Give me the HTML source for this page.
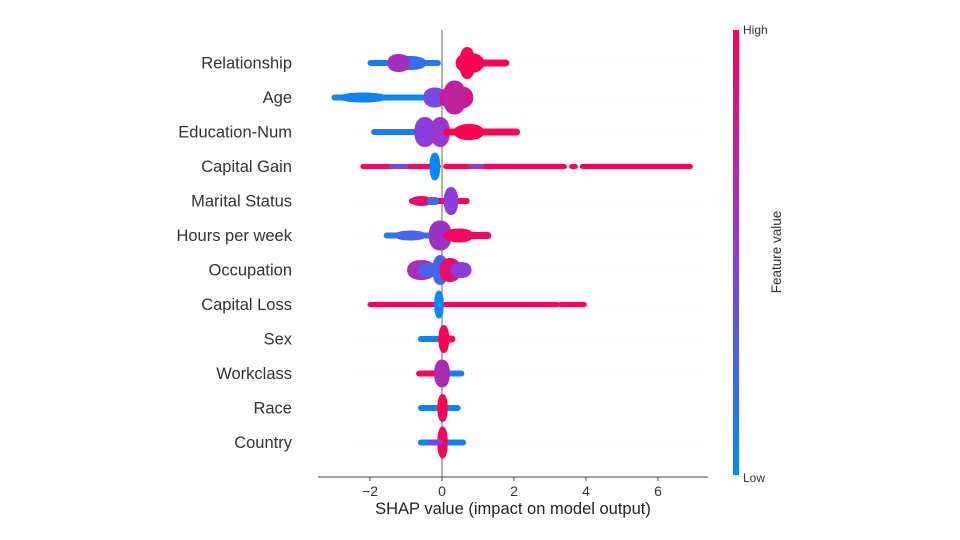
<!DOCTYPE html>
<html><head><meta charset="utf-8"><style>
html,body{margin:0;padding:0;background:#fff;}
svg{display:block;font-family:"Liberation Sans","DejaVu Sans",sans-serif;}
</style></head><body>
<svg id="chart" width="960" height="540" viewBox="0 0 960 540" xmlns="http://www.w3.org/2000/svg">
<defs><linearGradient id="cbar" x1="0" y1="1" x2="0" y2="0">
<stop offset="0" stop-color="rgb(0,139,251)"/><stop offset="0.5" stop-color="rgb(140,60,220)"/><stop offset="1" stop-color="rgb(255,0,82)"/>
</linearGradient></defs>
<g id="guides"></g>
<line x1="442" y1="30" x2="442" y2="477" stroke="#999" stroke-width="1.5"/>
<g id="marks"></g>
<g id="labels"></g>
<g id="xaxis"></g>
<text x="513" y="514" text-anchor="middle" font-size="16.5" fill="#222">SHAP value (impact on model output)</text>
<rect x="733" y="30" width="6" height="445" fill="url(#cbar)"/>
<text x="743" y="34" font-size="12" fill="#333">High</text>
<text x="743" y="482" font-size="12" fill="#333">Low</text>
<text transform="translate(781,252) rotate(-90)" text-anchor="middle" font-size="13.5" fill="#333">Feature value</text>
</svg>
<script>
const features = ["Relationship","Age","Education-Num","Capital Gain","Marital Status","Hours per week","Occupation","Capital Loss","Sex","Workclass","Race","Country"];
const xTicks = [-2,0,2,4,6];
// segments per feature: [xStart, xEnd, thickness, colorValue(0 low..1 high)]
const segRelationship = [[-2.0,-0.1,6,0.1],[-1.3,-0.5,14,0.15],[-1.45,-0.95,18,0.6],[0.55,1.8,7,1],[0.45,1.1,20,1],[0.55,0.85,32,1]];
const segAge = [[-3.0,-0.3,6,0.02],[-2.8,-1.6,10,0.05],[-0.45,0.05,20,0.42],[0.0,0.8,24,0.8],[0.1,0.6,34,0.72]];
const segEducation = [[-1.9,-0.5,6,0.1],[-0.7,-0.25,30,0.5],[-0.25,0.15,30,0.55],[0.1,2.1,7,1],[0.4,1.1,16,1]];
const segCapitalGain = [[-2.2,-0.1,5,0.95],[-1.4,-1.0,5,0.4],[0.1,3.4,5,1],[0.8,1.1,5,0.55],[3.6,3.7,5,1],[3.9,6.9,5,1],[-0.28,-0.12,28,0]];
const segMarital = [[-0.85,0.7,6,0.95],[-0.8,-0.35,10,0.9],[-0.35,-0.15,8,0.2],[0.12,0.38,28,0.5]];
const segHours = [[-1.55,-0.3,6,0.1],[-1.25,-0.5,10,0.25],[-0.3,0.2,30,0.58],[0.1,1.3,7,0.95],[0.15,0.8,14,0.95]];
const segOccupation = [[-0.9,-0.25,20,0.62],[-0.6,-0.05,14,0.25],[-0.2,0.1,30,0.25],[0.0,0.45,24,0.9],[0.3,0.75,16,0.5]];
const segCapitalLoss = [[-2.0,3.2,5,1],[3.3,3.95,5,1],[-0.15,-0.02,28,0]];
const segSex = [[-0.6,-0.1,6,0.05],[-0.05,0.3,7,1],[-0.03,0.13,28,1]];
const segWorkclass = [[-0.65,-0.1,6,1],[0.1,0.55,6,0.05],[-0.15,0.15,28,0.65]];
const segRace = [[-0.6,0.45,6,0.05],[-0.06,0.09,28,1]];
const segCountry = [[-0.6,0.6,6,0.05],[-0.06,0.09,32,1],[-0.3,-0.05,6,0.45]];
const segments = [segRelationship,segAge,segEducation,segCapitalGain,segMarital,segHours,segOccupation,segCapitalLoss,segSex,segWorkclass,segRace,segCountry];

const NS="http://www.w3.org/2000/svg";
const xScale = v => 442 + v*36;
const yScale = i => 63 + i*34.5;
function colorFor(t){
  const a=[0,139,251], m=[140,60,220], b=[255,0,82];
  let c;
  if(t<0.5){const u=t/0.5;c=a.map((v,k)=>Math.round(v+(m[k]-v)*u));}
  else{const u=(t-0.5)/0.5;c=m.map((v,k)=>Math.round(v+(b[k]-v)*u));}
  return `rgb(${c.join(',')})`;
}
const guides=document.getElementById('guides'), marks=document.getElementById('marks'), labels=document.getElementById('labels'), xaxis=document.getElementById('xaxis');
features.forEach((f,i)=>{
  const y=yScale(i);
  const g=document.createElementNS(NS,'line');
  g.setAttribute('x1',355);g.setAttribute('x2',705);g.setAttribute('y1',y);g.setAttribute('y2',y);
  g.setAttribute('stroke','#f0f0f0');g.setAttribute('stroke-dasharray','1 3');
  
  
  guides.appendChild(g);
  const t=document.createElementNS(NS,'text');
  t.setAttribute('x',292);t.setAttribute('y',y+5.5);t.setAttribute('text-anchor','end');
  t.setAttribute('font-size','16.5');t.setAttribute('fill','#333');t.textContent=f;
  
  
  labels.appendChild(t);
  segments[i].forEach(s=>{
    const x0=xScale(s[0]), x1=xScale(s[1]), h=s[2];
    const col=colorFor(s[3]);
    if(h>8){
      const cx=(x0+x1)/2, hw=Math.max(3,(x1-x0)/2+2.5);
      const p=document.createElementNS(NS,'path');
      const k=0.65;
      p.setAttribute('d',`M${cx-hw},${y} C${cx-hw},${y-h*0.3} ${cx-hw*k},${y-h/2} ${cx},${y-h/2} C${cx+hw*k},${y-h/2} ${cx+hw},${y-h*0.3} ${cx+hw},${y} C${cx+hw},${y+h*0.3} ${cx+hw*k},${y+h/2} ${cx},${y+h/2} C${cx-hw*k},${y+h/2} ${cx-hw},${y+h*0.3} ${cx-hw},${y} Z`);
      p.setAttribute('fill',col);
      
      
      marks.appendChild(p);
    } else {
      const r=document.createElementNS(NS,'rect');
      r.setAttribute('x',x0-2.5);r.setAttribute('width',Math.max(5,x1-x0+5));
      r.setAttribute('y',y-h/2);r.setAttribute('height',h);
      r.setAttribute('rx',h/2);
      r.setAttribute('fill',col);
      
      
      marks.appendChild(r);
    }
  });
});
const ax=document.createElementNS(NS,'line');
ax.setAttribute('x1',318);ax.setAttribute('x2',708);ax.setAttribute('y1',477);ax.setAttribute('y2',477);ax.setAttribute('stroke','#444');


xaxis.appendChild(ax);
xTicks.forEach(v=>{
  const x=xScale(v);
  const tk=document.createElementNS(NS,'line');
  tk.setAttribute('x1',x);tk.setAttribute('x2',x);tk.setAttribute('y1',477);tk.setAttribute('y2',481);tk.setAttribute('stroke','#444');
  
  
  xaxis.appendChild(tk);
  const tl=document.createElementNS(NS,'text');
  tl.setAttribute('x',x);tl.setAttribute('y',496);tl.setAttribute('text-anchor','middle');tl.setAttribute('font-size','14');tl.setAttribute('fill','#333');
  tl.textContent = v<0 ? '\u2212'+Math.abs(v) : String(v);
  
  
  xaxis.appendChild(tl);
});
</script>
</body></html>
